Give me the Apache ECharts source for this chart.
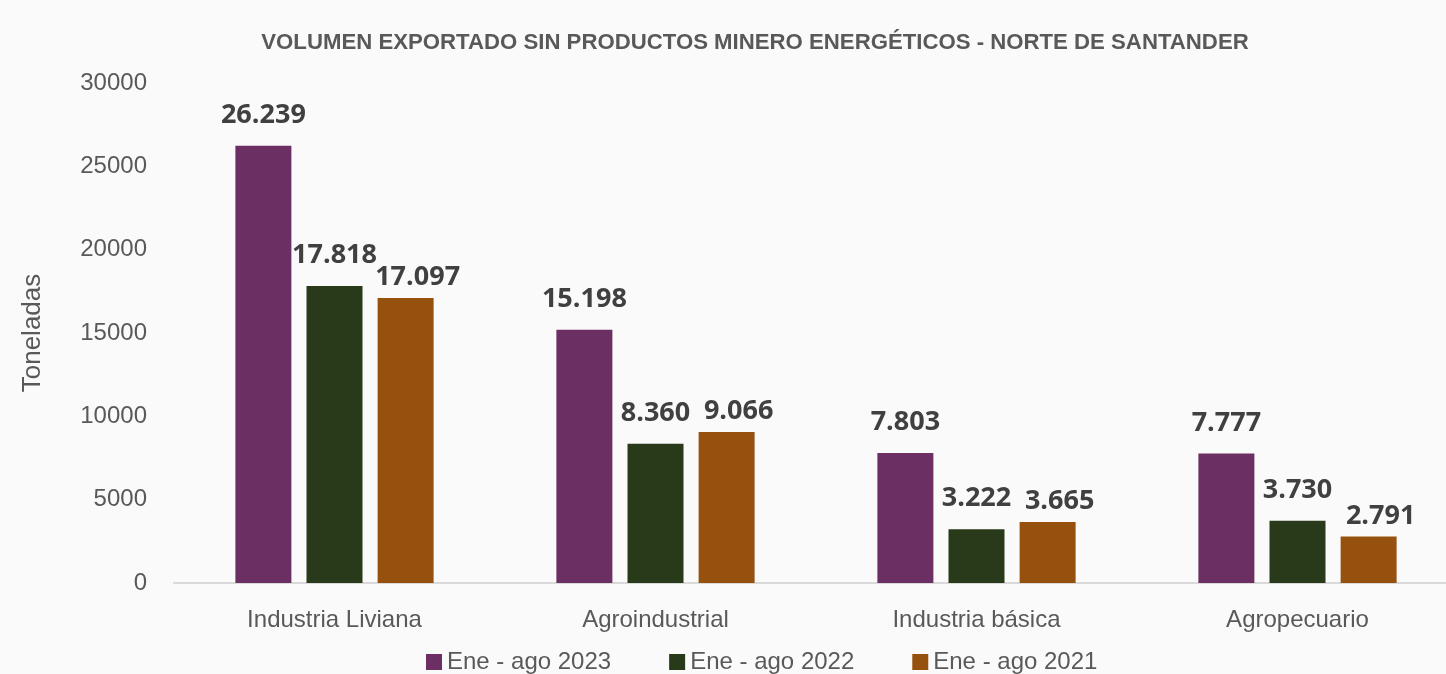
<!DOCTYPE html>
<html>
<head>
<meta charset="utf-8">
<script src="https://cdn.jsdelivr.net/npm/echarts@6/dist/echarts.min.js"></script>
<style>
  html, body { margin: 0; padding: 0; background: #fafafa; }
  #chart { width: 1446px; height: 674px; }
</style>
</head>
<body>
<div id="chart"></div>
<script>
// data
const categories = ['Industria Liviana', 'Agroindustrial', 'Industria básica', 'Agropecuario'];
const seriesNames = ['Ene - ago 2023', 'Ene - ago 2022', 'Ene - ago 2021'];
const values2023 = [26239, 15198, 7803, 7777];
const values2022 = [17818, 8360, 3222, 3730];
const values2021 = [17097, 9066, 3665, 2791];
const colors = ['#6b2f63', '#283a19', '#97510f'];

const sans = '"Liberation Sans", Arial, sans-serif';

// thousands with a dot, like 26.239
const fmt = v => String(v).replace(/\B(?=(\d{3})+(?!\d))/g, '.');

const chart = echarts.init(document.getElementById('chart'));

const makeSeries = (name, data, color, labelDist, labelOffset) => ({
  name: name,
  type: 'bar',
  data: data,
  barWidth: 56,
  barGap: '27%',
  itemStyle: {
    color: color,
  },
  label: {
    show: true,
    position: 'top',
    distance: labelDist,
    offset: labelOffset,
    formatter: p => fmt(p.value),
    fontFamily: '"Open Sans", sans-serif',
    fontWeight: 'bold',
    fontSize: 27,
    color: '#404040',
  },
});

const option = {
  backgroundColor: '#fafafa',
  animation: false,
  title: {
    text: 'VOLUMEN EXPORTADO SIN PRODUCTOS MINERO ENERGÉTICOS - NORTE DE SANTANDER',
    left: 750,
    textAlign: 'center',
    top: 27,
    textStyle: {
      fontFamily: sans,
      fontWeight: 'bold',
      fontSize: 22.2,
      color: '#595959',
    },
  },
  legend: {
    bottom: -5,
    left: 421,
    itemWidth: 16,
    itemHeight: 16,
    itemGap: 58,
    icon: 'rect',
    textStyle: {
      fontFamily: sans,
      fontSize: 24,
      color: '#595959',
    },
    data: seriesNames,
  },
  grid: {
    left: 174,
    top: 83,
    width: 1284,
    height: 500,
    outerBoundsMode: 'none',
  },
  xAxis: {
    type: 'category',
    data: categories,
    axisLine: {
      lineStyle: {
        color: '#d9d9d9',
        width: 2,
      },
    },
    axisTick: { show: false },
    axisLabel: {
      margin: 25,
      fontFamily: sans,
      fontSize: 24,
      color: '#595959',
    },
  },
  yAxis: {
    type: 'value',
    min: 0,
    max: 30000,
    interval: 5000,
    name: 'Toneladas',
    nameLocation: 'middle',
    nameGap: 128,
    nameTextStyle: {
      fontFamily: sans,
      fontSize: 26,
      color: '#595959',
    },
    axisLine: { show: false },
    axisTick: { show: false },
    splitLine: { show: false },
    axisLabel: {
      margin: 27,
      formatter: v => String(v),
      fontFamily: sans,
      fontSize: 24,
      color: '#595959',
    },
  },
  series: [
    makeSeries(seriesNames[0], values2023, colors[0], 17, [0, 0]),
    makeSeries(seriesNames[1], values2022, colors[1], 17, [0, 0]),
    makeSeries(seriesNames[2], values2021, colors[2], 7, [12, 0]),
  ],
};

chart.setOption(option);
</script>
</body>
</html>
